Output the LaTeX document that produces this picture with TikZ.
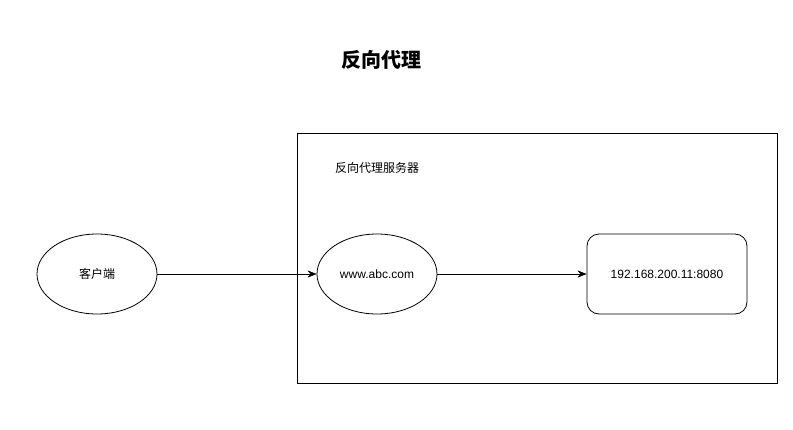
\documentclass[tikz,border=0pt]{standalone}
\usepackage{fontspec}
\setmainfont{Liberation Sans}
\newfontfamily\cjk{Noto Sans CJK SC}
\usetikzlibrary{positioning,arrows.meta,shapes.geometric}

\tikzset{
  endpoint/.style={draw,ellipse,minimum width=120pt,minimum height=80pt,inner sep=0pt},
  backend/.style={draw,rounded corners=12pt,minimum width=160pt,minimum height=80pt},
  flow/.style={-{Stealth[length=9pt,width=7pt]},thin},
}

\begin{document}
\begin{tikzpicture}[x=1pt,y=-1pt,font=\fontsize{12}{14}\selectfont,line width=0.8pt]
  \useasboundingbox (0,0) rectangle (793,429);
  % ---------------- title ----------------
  \node[font=\fontsize{20}{24}\selectfont\cjk\bfseries] (title) at (381,60) {反向代理};
  % ---------------- proxy server box ----------------
  \draw (297,133) rectangle (777,383);
  \node[font=\fontsize{12}{14}\selectfont\cjk] (server) at (377,168) {反向代理服务器};
  % ---------------- nodes ----------------
  \node[endpoint] (client) at (97,274) {\cjk 客户端};
  \node[endpoint] (domain) at (377,274) {www.abc.com};
  \node[backend] (host) at (667,274) {192.168.200.11:8080};
  % ---------------- connectors ----------------
  \draw[flow] (client) -- (domain);
  \draw[flow] (domain) -- (host);
\end{tikzpicture}
\end{document}
